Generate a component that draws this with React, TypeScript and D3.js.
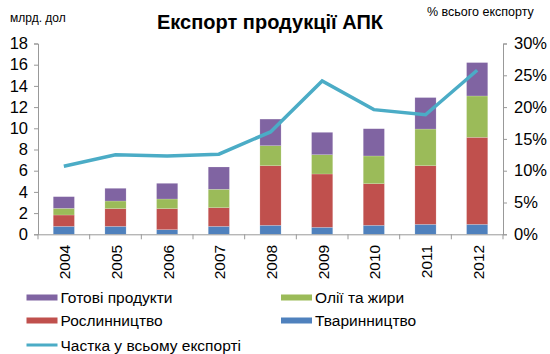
import { useEffect, useRef } from "react";
import * as d3 from "d3";

const years = ["2004", "2005", "2006", "2007", "2008", "2009", "2010", "2011", "2012"];
// segment values (bn USD)
const livestock = [0.75, 0.75, 0.44, 0.75, 0.85, 0.66, 0.85, 0.94, 0.94];
const crops = [1.07, 1.67, 1.98, 1.76, 5.62, 5.03, 3.92, 5.53, 8.21];
const oils = [0.63, 0.72, 0.91, 1.74, 1.89, 1.82, 2.62, 3.46, 3.9];
const finished = [1.1, 1.2, 1.48, 2.1, 2.51, 2.11, 2.57, 2.97, 3.15];
const share = [10.7, 12.5, 12.3, 12.6, 16.1, 24.1, 19.6, 18.8, 25.8];

const leftTicks = [0, 2, 4, 6, 8, 10, 12, 14, 16, 18];
const rightTicks = [0, 5, 10, 15, 20, 25, 30];

const series = [
  { key: "livestock", label: "Тваринництво", color: "#4F81BD", values: livestock },
  { key: "crops", label: "Рослинництво", color: "#C0504D", values: crops },
  { key: "oils", label: "Олії  та жири", color: "#9BBB59", values: oils },
  { key: "finished", label: "Готові  продукти", color: "#8064A2", values: finished },
];
const lineColor = "#4BACC6";
const lineLabel = "Частка у всьому експорті";

const W = 550;
const H = 354;
const font = "Arial, 'Liberation Sans', sans-serif";

const App = () => {
  const svgRef = useRef<SVGSVGElement>(null);

  useEffect(() => {
    const svg = d3.select(svgRef.current);
    svg.selectAll("*").remove();

    const left = 38;
    const right = 503;
    const top = 43.5;
    const bottom = 234.3;

    const x = d3.scaleBand().domain(years).range([left, right]).paddingInner(0.59).paddingOuter(0.295);
    const y = d3.scaleLinear().domain([0, 18]).range([bottom, top]);
    const y2 = d3.scaleLinear().domain([0, 30]).range([bottom, top]);

    const rows = years.map((yr, i) => {
      const r: any = { year: yr };
      series.forEach((s) => (r[s.key] = s.values[i]));
      return r;
    });
    const stacked = d3.stack().keys(series.map((s) => s.key))(rows);

    // bars
    stacked.forEach((layer, li) => {
      svg
        .append("g")
        .selectAll("rect")
        .data(layer)
        .join("rect")
        .attr("x", (d: any) => x(d.data.year)!)
        .attr("y", (d) => y(d[1]))
        .attr("width", x.bandwidth())
        .attr("height", (d) => y(d[0]) - y(d[1]))
        .attr("fill", series[li].color)
        .attr("stroke", "#ffffff")
        .attr("stroke-opacity", 0.35)
        .attr("stroke-width", 0.5);
    });

    // left axis
    const la = svg
      .append("g")
      .attr("transform", `translate(${left},0)`)
      .call(d3.axisLeft(y).tickValues(leftTicks).tickSize(4).tickPadding(6));
    // right axis
    const ra = svg
      .append("g")
      .attr("transform", `translate(${right},0)`)
      .call(
        d3
          .axisRight(y2)
          .tickValues(rightTicks)
          .tickSize(4)
          .tickPadding(7)
          .tickFormat((d) => `${d}%`)
      );
    // bottom axis line, ticks between categories
    const ba = svg
      .append("g")
      .attr("transform", `translate(0,${bottom})`)
      .call(d3.axisBottom(x).tickSize(0).tickFormat(() => ""));
    ba.selectAll(".tick").remove();
    svg
      .append("g")
      .selectAll("line")
      .data(d3.range(years.length + 1))
      .join("line")
      .attr("x1", (i) => left + i * x.step())
      .attr("x2", (i) => left + i * x.step())
      .attr("y1", bottom)
      .attr("y2", bottom + 5)
      .attr("stroke", "#999");

    [la, ra, ba].forEach((g) => {
      g.selectAll("path").attr("stroke", "#999").attr("stroke-width", 1);
      g.selectAll("line").attr("stroke", "#999");
      g.selectAll("text").attr("font-family", font).attr("font-size", 16.5).attr("fill", "#000");
    });

    // year labels
    svg
      .append("g")
      .selectAll("text")
      .data(years)
      .join("text")
      .attr(
        "transform",
        (d) => `translate(${x(d)! + x.bandwidth() / 2 + 6.5},${bottom + 10.5}) rotate(-90)`
      )
      .attr("text-anchor", "end")
      .attr("font-family", font)
      .attr("font-size", 15.5)
      .text((d) => d);

    // share line
    const line = d3
      .line<number>()
      .x((_, i) => x(years[i])! + x.bandwidth() / 2)
      .y((d) => y2(d));
    svg
      .append("path")
      .datum(share)
      .attr("d", line)
      .attr("fill", "none")
      .attr("stroke", lineColor)
      .attr("stroke-width", 3.5);

    // titles
    svg
      .append("text")
      .attr("x", 270)
      .attr("y", 29)
      .attr("text-anchor", "middle")
      .attr("font-family", font)
      .attr("font-size", 20)
      .attr("font-weight", "bold")
      .text("Експорт  продукції АПК");
    svg
      .append("text")
      .attr("x", 10)
      .attr("y", 22)
      .attr("font-family", font)
      .attr("font-size", 12)
      .text("млрд. дол");
    svg
      .append("text")
      .attr("x", 427)
      .attr("y", 16)
      .attr("font-family", font)
      .attr("font-size", 12.5)
      .text("% всього експорту");

    // legend
    const legend = [
      { label: series[3].label, color: series[3].color, x: 26.5, y: 297.5, line: false },
      { label: series[2].label, color: series[2].color, x: 281, y: 297.5, line: false },
      { label: series[1].label, color: series[1].color, x: 26.5, y: 320.5, line: false },
      { label: series[0].label, color: series[0].color, x: 281, y: 320.5, line: false },
      { label: lineLabel, color: lineColor, x: 26.5, y: 345, line: true },
    ];
    const lg = svg.append("g").selectAll("g").data(legend).join("g");
    lg.append("rect")
      .attr("x", (d) => d.x)
      .attr("y", (d) => d.y - (d.line ? 1.5 : 3))
      .attr("width", 31)
      .attr("height", (d) => (d.line ? 3 : 6))
      .attr("fill", (d) => d.color);
    lg.append("text")
      .attr("x", (d) => d.x + 34)
      .attr("y", (d) => d.y + 5.5)
      .attr("font-family", font)
      .attr("font-size", 15.5)
      .text((d) => d.label);
  }, []);

  return <svg ref={svgRef} width={W} height={H} style={{ position: "absolute", left: 0, top: 0 }} />;
};

export default App;
